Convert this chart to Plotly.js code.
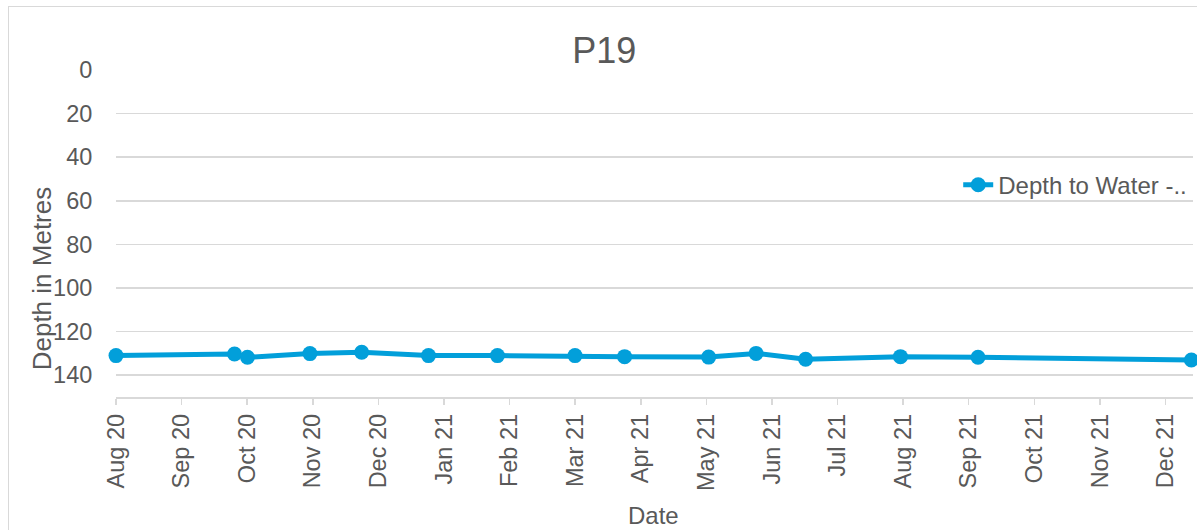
<!DOCTYPE html>
<html>
<head>
<meta charset="utf-8">
<script src="https://cdn.plot.ly/plotly-3.0.1.min.js"></script>
<style>
  html, body { margin: 0; padding: 0; background: #ffffff; }
  #wrap { position: relative; width: 1197px; height: 530px; overflow: hidden; }
  #chart { position: absolute; left: 0; top: 0; width: 1197px; height: 530px; }
  #frame { position: absolute; left: 8px; top: 6px; width: 1200px; height: 540px;
           border: 1px solid #d9d9d9; box-sizing: border-box; pointer-events: none; }
</style>
</head>
<body>
<div id="wrap">
  <div id="chart"></div>
  <div id="frame"></div>
</div>
<script>
// ---- data ----
const dates = [
  '2020-08-01', '2020-09-25', '2020-10-01', '2020-10-30', '2020-11-23',
  '2020-12-24', '2021-01-25', '2021-03-02', '2021-03-25', '2021-05-03',
  '2021-05-25', '2021-06-17', '2021-07-31', '2021-09-05', '2021-12-13'
];
const depthToWater = [
  131.0, 130.3, 131.8, 130.1, 129.5,
  131.0, 131.0, 131.0, 131.5, 131.7,
  130.0, 132.7, 131.5, 131.8, 133.0
];
const tickLabels = [
  'Aug 20', 'Sep 20', 'Oct 20', 'Nov 20', 'Dec 20', 'Jan 21', 'Feb 21', 'Mar 21',
  'Apr 21', 'May 21', 'Jun 21', 'Jul 21', 'Aug 21', 'Sep 21', 'Oct 21', 'Nov 21', 'Dec 21'
];
const seriesName = 'Depth to Water -..';
const chartTitle = 'P19';
const xTitle = 'Date';
const yTitle = 'Depth in Metres';

// ---- axis ticks (evenly spaced, like the source chart) ----
const tickStart = Date.UTC(2020, 7, 1);
const tickEnd = Date.UTC(2021, 11, 1);
const step = (tickEnd - tickStart) / (tickLabels.length - 1);
const tickVals = tickLabels.map((_, i) => new Date(tickStart + i * step).toISOString());

const FONT = 'Liberation Sans, Arial, sans-serif';
const TXT = '#595959';
const GRID = '#d9d9d9';
const BLUE = '#029fda';

const trace = {
  type: 'scatter',
  mode: 'lines+markers',
  x: dates,
  y: depthToWater,
  name: seriesName,
  line: { color: BLUE, width: 5 },
  marker: { color: BLUE, size: 15 },
  cliponaxis: false,
  showlegend: true
};

const layout = {
  width: 1197,
  height: 530,
  margin: { l: 116, r: 4, t: 70, b: 133 },
  paper_bgcolor: '#ffffff',
  plot_bgcolor: '#ffffff',
  font: { family: FONT, color: TXT, size: 23 },
  title: {
    text: chartTitle,
    font: { family: FONT, size: 36, color: TXT },
    x: 0.4533, xanchor: 'center', xref: 'paper',
    y: 0.905, yanchor: 'middle', yref: 'container'
  },
  showlegend: true,
  legend: {
    x: 0.782, xanchor: 'left',
    y: 0.648, yanchor: 'middle',
    bgcolor: 'rgba(0,0,0,0)',
    font: { family: FONT, size: 24, color: TXT }
  },
  xaxis: {
    type: 'date',
    range: ['2020-08-01', '2021-12-13 18:00'],
    tickmode: 'array',
    tickvals: tickVals,
    ticktext: tickLabels,
    tickangle: -90,
    ticks: 'outside',
    ticklen: 6,
    tickwidth: 1.5,
    tickcolor: GRID,
    showline: true,
    linecolor: GRID,
    linewidth: 1.5,
    showgrid: false,
    zeroline: false,
    tickfont: { family: FONT, size: 23.5, color: TXT },
    fixedrange: true
  },
  yaxis: {
    range: [150, 0],
    tickmode: 'linear',
    tick0: 0,
    dtick: 20,
    ticks: 'outside',
    ticklen: 18,
    tickcolor: 'rgba(0,0,0,0)',
    showline: false,
    showgrid: true,
    gridcolor: GRID,
    gridwidth: 1.5,
    zeroline: false,
    tickfont: { family: FONT, size: 23.5, color: TXT },
    fixedrange: true
  },
  annotations: [
    {
      text: yTitle, textangle: -90,
      xref: 'paper', yref: 'paper',
      x: -0.0684, y: 0.364, xanchor: 'center', yanchor: 'middle',
      showarrow: false,
      font: { family: FONT, size: 26, color: TXT }
    },
    {
      text: xTitle,
      xref: 'paper', yref: 'paper',
      x: 0.4988, y: -0.361, xanchor: 'center', yanchor: 'middle',
      showarrow: false,
      font: { family: FONT, size: 24, color: TXT }
    }
  ]
};

Plotly.newPlot('chart', [trace], layout, { displayModeBar: false, staticPlot: true });
</script>
</body>
</html>
